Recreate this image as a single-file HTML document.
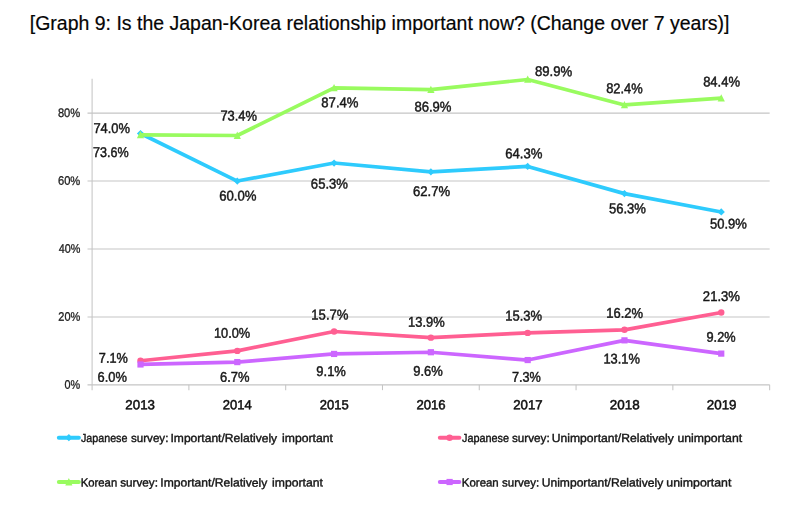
<!DOCTYPE html>
<html lang="en">
<head>
<meta charset="utf-8">
<title>Graph 9: Is the Japan-Korea relationship important now?</title>
<style>
html,body{margin:0;padding:0;background:#fff;}
body{width:800px;height:517px;overflow:hidden;font-family:"Liberation Sans",sans-serif;}
svg{display:block;}
svg text{font-family:"Liberation Sans",sans-serif;}
.title{font-size:20.1px;fill:#050505;stroke:#050505;stroke-width:0.2px;}
.dl{font-size:14.1px;fill:#161616;stroke:#161616;stroke-width:0.45px;}
.yl{font-size:12.4px;fill:#1c1c1c;stroke:#1c1c1c;stroke-width:0.3px;}
.xl{font-size:13.2px;fill:#101010;stroke:#101010;stroke-width:0.5px;}
.lg{font-size:11.7px;fill:#141414;stroke:#141414;stroke-width:0.38px;}
</style>
</head>
<body>
<svg width="800" height="517" viewBox="0 0 800 517" role="img" aria-label="Line chart: Is the Japan-Korea relationship important now?">
<defs><filter id="soft" x="0" y="0" width="800" height="517" filterUnits="userSpaceOnUse"><feGaussianBlur stdDeviation="0.45"/></filter></defs>
<rect width="800" height="517" fill="#ffffff"/>
<text class="title" x="29.79" y="30.00" textLength="699.73" lengthAdjust="spacingAndGlyphs">[Graph 9: Is the Japan-Korea relationship important now? (Change over 7 years)]</text>
<g filter="url(#soft)">
<g stroke="#c5c5c5" stroke-width="1.05" fill="none">
<line x1="87.50" y1="316.91" x2="769.65" y2="316.91"/>
<line x1="87.50" y1="248.98" x2="769.65" y2="248.98"/>
<line x1="87.50" y1="181.04" x2="769.65" y2="181.04"/>
<line x1="87.50" y1="113.10" x2="769.65" y2="113.10"/>
<line x1="87.50" y1="384.85" x2="769.65" y2="384.85"/>
<line x1="92.10" y1="78.8" x2="92.10" y2="390.15"/>
<line x1="188.89" y1="384.85" x2="188.89" y2="390.15"/>
<line x1="285.69" y1="384.85" x2="285.69" y2="390.15"/>
<line x1="382.48" y1="384.85" x2="382.48" y2="390.15"/>
<line x1="479.27" y1="384.85" x2="479.27" y2="390.15"/>
<line x1="576.06" y1="384.85" x2="576.06" y2="390.15"/>
<line x1="672.86" y1="384.85" x2="672.86" y2="390.15"/>
<line x1="769.65" y1="384.85" x2="769.65" y2="390.15"/>
</g>
<polyline points="140.50,133.48 237.29,181.04 334.08,163.03 430.88,171.87 527.67,166.43 624.46,193.61 721.25,211.95" fill="none" stroke="#2ECBFD" stroke-width="3.7" stroke-linejoin="round" stroke-linecap="butt"/>
<path d="M140.50 129.88L144.10 133.48L140.50 137.08L136.90 133.48Z" fill="#2ECBFD"/>
<path d="M237.29 177.44L240.89 181.04L237.29 184.64L233.69 181.04Z" fill="#2ECBFD"/>
<path d="M334.08 159.43L337.68 163.03L334.08 166.63L330.48 163.03Z" fill="#2ECBFD"/>
<path d="M430.88 168.27L434.48 171.87L430.88 175.47L427.27 171.87Z" fill="#2ECBFD"/>
<path d="M527.67 162.83L531.27 166.43L527.67 170.03L524.07 166.43Z" fill="#2ECBFD"/>
<path d="M624.46 190.01L628.06 193.61L624.46 197.21L620.86 193.61Z" fill="#2ECBFD"/>
<path d="M721.25 208.35L724.85 211.95L721.25 215.55L717.65 211.95Z" fill="#2ECBFD"/>
<polyline points="140.50,360.73 237.29,350.88 334.08,331.52 430.88,337.63 527.67,332.88 624.46,329.82 721.25,312.50" fill="none" stroke="#FF5E92" stroke-width="3.7" stroke-linejoin="round" stroke-linecap="butt"/>
<circle cx="140.50" cy="360.73" r="3.2" fill="#FF5E92"/>
<circle cx="237.29" cy="350.88" r="3.2" fill="#FF5E92"/>
<circle cx="334.08" cy="331.52" r="3.2" fill="#FF5E92"/>
<circle cx="430.88" cy="337.63" r="3.2" fill="#FF5E92"/>
<circle cx="527.67" cy="332.88" r="3.2" fill="#FF5E92"/>
<circle cx="624.46" cy="329.82" r="3.2" fill="#FF5E92"/>
<circle cx="721.25" cy="312.50" r="3.2" fill="#FF5E92"/>
<polyline points="140.50,134.84 237.29,135.52 334.08,87.96 430.88,89.66 527.67,79.47 624.46,104.95 721.25,98.15" fill="none" stroke="#99FB5F" stroke-width="3.7" stroke-linejoin="round" stroke-linecap="butt"/>
<path d="M140.50 130.84L144.10 138.24L136.90 138.24Z" fill="#99FB5F"/>
<path d="M237.29 131.52L240.89 138.92L233.69 138.92Z" fill="#99FB5F"/>
<path d="M334.08 83.96L337.68 91.36L330.48 91.36Z" fill="#99FB5F"/>
<path d="M430.88 85.66L434.48 93.06L427.27 93.06Z" fill="#99FB5F"/>
<path d="M527.67 75.47L531.27 82.87L524.07 82.87Z" fill="#99FB5F"/>
<path d="M624.46 100.95L628.06 108.35L620.86 108.35Z" fill="#99FB5F"/>
<path d="M721.25 94.15L724.85 101.55L717.65 101.55Z" fill="#99FB5F"/>
<polyline points="140.50,364.47 237.29,362.09 334.08,353.94 430.88,352.24 527.67,360.05 624.46,340.35 721.25,353.60" fill="none" stroke="#CC66FF" stroke-width="3.7" stroke-linejoin="round" stroke-linecap="butt"/>
<rect x="137.40" y="361.37" width="6.2" height="6.2" fill="#CC66FF"/>
<rect x="234.19" y="358.99" width="6.2" height="6.2" fill="#CC66FF"/>
<rect x="330.98" y="350.84" width="6.2" height="6.2" fill="#CC66FF"/>
<rect x="427.77" y="349.14" width="6.2" height="6.2" fill="#CC66FF"/>
<rect x="524.57" y="356.95" width="6.2" height="6.2" fill="#CC66FF"/>
<rect x="621.36" y="337.25" width="6.2" height="6.2" fill="#CC66FF"/>
<rect x="718.15" y="350.50" width="6.2" height="6.2" fill="#CC66FF"/>
<line x1="58.80" y1="437.70" x2="78.90" y2="437.70" stroke="#2ECBFD" stroke-width="3.9000000000000004" stroke-linecap="round"/>
<path d="M68.85 434.10L72.45 437.70L68.85 441.30L65.25 437.70Z" fill="#2ECBFD"/>
<line x1="439.80" y1="437.70" x2="459.40" y2="437.70" stroke="#FF5E92" stroke-width="3.9000000000000004" stroke-linecap="round"/>
<circle cx="449.60" cy="437.70" r="3.2" fill="#FF5E92"/>
<line x1="58.80" y1="482.00" x2="78.90" y2="482.00" stroke="#99FB5F" stroke-width="3.9000000000000004" stroke-linecap="round"/>
<path d="M68.85 478.00L72.45 485.40L65.25 485.40Z" fill="#99FB5F"/>
<line x1="439.80" y1="482.00" x2="459.40" y2="482.00" stroke="#CC66FF" stroke-width="3.9000000000000004" stroke-linecap="round"/>
<rect x="446.50" y="478.90" width="6.2" height="6.2" fill="#CC66FF"/>
<text class="dl" x="93.40" y="133.00" textLength="36.56" lengthAdjust="spacingAndGlyphs" transform="rotate(0.05 111.7 133.0)">74.0%</text>
<text class="dl" x="93.05" y="157.06" textLength="35.61" lengthAdjust="spacingAndGlyphs" transform="rotate(0.05 110.9 157.1)">73.6%</text>
<text class="dl" x="220.43" y="120.64" textLength="36.57" lengthAdjust="spacingAndGlyphs" transform="rotate(0.05 238.7 120.6)">73.4%</text>
<text class="dl" x="219.23" y="200.47" textLength="37.25" lengthAdjust="spacingAndGlyphs" transform="rotate(0.05 237.9 200.5)">60.0%</text>
<text class="dl" x="321.32" y="107.16" textLength="37.16" lengthAdjust="spacingAndGlyphs" transform="rotate(0.05 339.9 107.2)">87.4%</text>
<text class="dl" x="414.42" y="111.46" textLength="37.07" lengthAdjust="spacingAndGlyphs" transform="rotate(0.05 433.0 111.5)">86.9%</text>
<text class="dl" x="310.87" y="188.62" textLength="37.12" lengthAdjust="spacingAndGlyphs" transform="rotate(0.05 329.4 188.6)">65.3%</text>
<text class="dl" x="413.01" y="196.02" textLength="37.03" lengthAdjust="spacingAndGlyphs" transform="rotate(0.05 431.5 196.0)">62.7%</text>
<text class="dl" x="535.02" y="76.13" textLength="37.22" lengthAdjust="spacingAndGlyphs" transform="rotate(0.05 553.6 76.1)">89.9%</text>
<text class="dl" x="606.15" y="93.15" textLength="36.54" lengthAdjust="spacingAndGlyphs" transform="rotate(0.05 624.4 93.2)">82.4%</text>
<text class="dl" x="505.17" y="158.21" textLength="37.18" lengthAdjust="spacingAndGlyphs" transform="rotate(0.05 523.8 158.2)">64.3%</text>
<text class="dl" x="608.95" y="213.24" textLength="37.04" lengthAdjust="spacingAndGlyphs" transform="rotate(0.05 627.5 213.2)">56.3%</text>
<text class="dl" x="703.14" y="86.44" textLength="36.87" lengthAdjust="spacingAndGlyphs" transform="rotate(0.05 721.6 86.4)">84.4%</text>
<text class="dl" x="710.02" y="228.62" textLength="36.86" lengthAdjust="spacingAndGlyphs" transform="rotate(0.05 728.4 228.6)">50.9%</text>
<text class="dl" x="98.83" y="362.86" textLength="28.94" lengthAdjust="spacingAndGlyphs" transform="rotate(0.05 113.3 362.9)">7.1%</text>
<text class="dl" x="97.57" y="381.81" textLength="29.31" lengthAdjust="spacingAndGlyphs" transform="rotate(0.05 112.2 381.8)">6.0%</text>
<text class="dl" x="213.96" y="337.75" textLength="36.23" lengthAdjust="spacingAndGlyphs" transform="rotate(0.05 232.1 337.7)">10.0%</text>
<text class="dl" x="220.06" y="381.75" textLength="29.45" lengthAdjust="spacingAndGlyphs" transform="rotate(0.05 234.8 381.7)">6.7%</text>
<text class="dl" x="311.34" y="319.61" textLength="37.11" lengthAdjust="spacingAndGlyphs" transform="rotate(0.05 329.9 319.6)">15.7%</text>
<text class="dl" x="408.10" y="326.71" textLength="36.52" lengthAdjust="spacingAndGlyphs" transform="rotate(0.05 426.4 326.7)">13.9%</text>
<text class="dl" x="316.33" y="376.01" textLength="29.51" lengthAdjust="spacingAndGlyphs" transform="rotate(0.05 331.1 376.0)">9.1%</text>
<text class="dl" x="413.28" y="375.68" textLength="29.49" lengthAdjust="spacingAndGlyphs" transform="rotate(0.05 428.0 375.7)">9.6%</text>
<text class="dl" x="505.19" y="320.58" textLength="36.85" lengthAdjust="spacingAndGlyphs" transform="rotate(0.05 523.6 320.6)">15.3%</text>
<text class="dl" x="606.29" y="317.89" textLength="36.71" lengthAdjust="spacingAndGlyphs" transform="rotate(0.05 624.6 317.9)">16.2%</text>
<text class="dl" x="511.89" y="381.66" textLength="28.88" lengthAdjust="spacingAndGlyphs" transform="rotate(0.05 526.3 381.7)">7.3%</text>
<text class="dl" x="603.44" y="363.41" textLength="36.54" lengthAdjust="spacingAndGlyphs" transform="rotate(0.05 621.7 363.4)">13.1%</text>
<text class="dl" x="702.86" y="300.92" textLength="37.12" lengthAdjust="spacingAndGlyphs" transform="rotate(0.05 721.4 300.9)">21.3%</text>
<text class="dl" x="706.50" y="341.74" textLength="29.06" lengthAdjust="spacingAndGlyphs" transform="rotate(0.05 721.0 341.7)">9.2%</text>
<text class="yl" x="57.88" y="116.95" textLength="22.35" lengthAdjust="spacingAndGlyphs" transform="rotate(0.05 69.1 117.0)">80%</text>
<text class="yl" x="57.97" y="184.89" textLength="22.31" lengthAdjust="spacingAndGlyphs" transform="rotate(0.05 69.1 184.9)">60%</text>
<text class="yl" x="58.63" y="252.83" textLength="21.67" lengthAdjust="spacingAndGlyphs" transform="rotate(0.05 69.5 252.8)">40%</text>
<text class="yl" x="58.35" y="320.76" textLength="21.95" lengthAdjust="spacingAndGlyphs" transform="rotate(0.05 69.3 320.8)">20%</text>
<text class="yl" x="64.57" y="388.70" textLength="15.67" lengthAdjust="spacingAndGlyphs" transform="rotate(0.05 72.4 388.7)">0%</text>
<text class="xl" x="125.38" y="409.25" textLength="29.59" lengthAdjust="spacingAndGlyphs" transform="rotate(0.05 140.2 409.2)">2013</text>
<text class="xl" x="222.85" y="409.25" textLength="28.95" lengthAdjust="spacingAndGlyphs" transform="rotate(0.05 237.3 409.2)">2014</text>
<text class="xl" x="319.74" y="409.25" textLength="28.95" lengthAdjust="spacingAndGlyphs" transform="rotate(0.05 334.2 409.2)">2015</text>
<text class="xl" x="416.40" y="409.25" textLength="29.25" lengthAdjust="spacingAndGlyphs" transform="rotate(0.05 431.0 409.2)">2016</text>
<text class="xl" x="513.22" y="409.25" textLength="29.41" lengthAdjust="spacingAndGlyphs" transform="rotate(0.05 527.9 409.2)">2017</text>
<text class="xl" x="609.79" y="409.25" textLength="29.84" lengthAdjust="spacingAndGlyphs" transform="rotate(0.05 624.7 409.2)">2018</text>
<text class="xl" x="706.79" y="409.25" textLength="29.72" lengthAdjust="spacingAndGlyphs" transform="rotate(0.05 721.7 409.2)">2019</text>
<text class="lg" x="80.90" y="442.10" textLength="46.55" lengthAdjust="spacingAndGlyphs" transform="rotate(0.05 104.2 442.1)">Japanese</text>
<text class="lg" x="131.02" y="442.10" textLength="37.33" lengthAdjust="spacingAndGlyphs" transform="rotate(0.05 149.7 442.1)">survey:</text>
<text class="lg" x="170.49" y="442.10" textLength="106.66" lengthAdjust="spacingAndGlyphs" transform="rotate(0.05 223.8 442.1)">Important/Relatively</text>
<text class="lg" x="282.05" y="442.10" textLength="50.78" lengthAdjust="spacingAndGlyphs" transform="rotate(0.05 307.4 442.1)">important</text>
<text class="lg" x="461.96" y="442.10" textLength="47.10" lengthAdjust="spacingAndGlyphs" transform="rotate(0.05 485.5 442.1)">Japanese</text>
<text class="lg" x="511.94" y="442.10" textLength="37.72" lengthAdjust="spacingAndGlyphs" transform="rotate(0.05 530.8 442.1)">survey:</text>
<text class="lg" x="551.81" y="442.10" textLength="122.02" lengthAdjust="spacingAndGlyphs" transform="rotate(0.05 612.8 442.1)">Unimportant/Relatively</text>
<text class="lg" x="677.41" y="442.10" textLength="64.72" lengthAdjust="spacingAndGlyphs" transform="rotate(0.05 709.8 442.1)">unimportant</text>
<text class="lg" x="80.76" y="486.60" textLength="36.43" lengthAdjust="spacingAndGlyphs" transform="rotate(0.05 99.0 486.6)">Korean</text>
<text class="lg" x="120.24" y="486.60" textLength="37.75" lengthAdjust="spacingAndGlyphs" transform="rotate(0.05 139.1 486.6)">survey:</text>
<text class="lg" x="160.30" y="486.60" textLength="106.96" lengthAdjust="spacingAndGlyphs" transform="rotate(0.05 213.8 486.6)">Important/Relatively</text>
<text class="lg" x="272.05" y="486.60" textLength="50.78" lengthAdjust="spacingAndGlyphs" transform="rotate(0.05 297.4 486.6)">important</text>
<text class="lg" x="461.83" y="486.60" textLength="36.90" lengthAdjust="spacingAndGlyphs" transform="rotate(0.05 480.3 486.6)">Korean</text>
<text class="lg" x="502.12" y="486.60" textLength="37.12" lengthAdjust="spacingAndGlyphs" transform="rotate(0.05 520.7 486.6)">survey:</text>
<text class="lg" x="541.74" y="486.60" textLength="121.55" lengthAdjust="spacingAndGlyphs" transform="rotate(0.05 602.5 486.6)">Unimportant/Relatively</text>
<text class="lg" x="666.37" y="486.60" textLength="65.03" lengthAdjust="spacingAndGlyphs" transform="rotate(0.05 698.9 486.6)">unimportant</text>
</g>
</svg>
</body>
</html>
